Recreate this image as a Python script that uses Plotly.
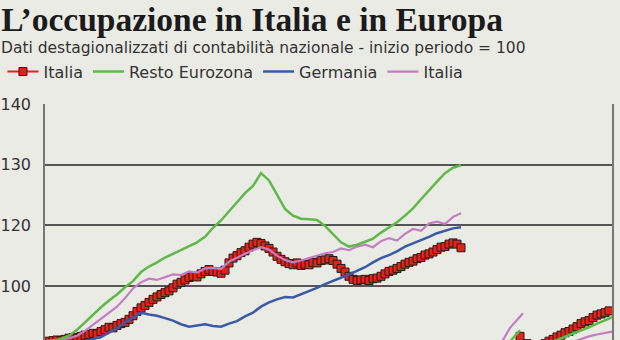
import plotly.graph_objects as go

# ---------------- data (quarter index, index = 100 at start) ----------------
red_x = list(range(0, 105))
red_y = [100.8, 100.9, 101.0, 101.1, 101.0, 101.2, 101.4, 101.5, 101.4, 101.7,
         101.9, 102.0, 102.2, 102.1, 102.5, 102.8, 103.2, 103.1, 103.5, 103.8,
         104.0, 104.5, 105.1, 105.8, 106.4, 106.8, 107.3, 107.8, 108.2, 108.6,
         108.9, 109.2, 109.7, 110.3, 110.6, 111.0, 111.4, 111.6, 111.5, 112.0,
         112.4, 112.7, 112.4, 112.3, 112.1, 112.6, 113.8, 114.6, 115.0, 115.5,
         115.8, 116.4, 116.9, 117.2, 117.0, 116.6, 116.2, 115.6, 114.9, 114.4,
         114.0, 113.7, 113.5, 113.8, 113.4, 113.6, 113.5, 113.9, 113.8, 114.2,
         114.3, 114.5, 114.2, 113.6, 112.9, 112.3, 111.6, 111.1, 110.9, 111.0,
         111.1, 110.9, 111.2, 111.3, 111.6, 112.0, 112.4, 112.6, 112.9, 113.2,
         113.6, 113.9, 114.1, 114.5, 114.7, 115.1, 115.3, 115.6, 116.0, 116.4,
         116.5, 116.9, 117.1, 116.9, 116.3]

coarse_x = list(range(0, 105, 2))
green_y = [100.6, 100.9, 101.3, 101.8, 102.8, 104.0, 105.3, 106.5, 107.6, 108.6,
           109.8, 110.8, 112.3, 113.2, 113.9, 114.7, 115.3, 115.9, 116.6, 117.2,
           118.1, 119.6, 120.8, 122.3, 123.8, 125.3, 126.5, 128.6, 127.4, 125.0,
           122.7, 121.6, 121.1, 121.0, 120.9, 119.9, 118.5, 117.2, 116.5, 116.8,
           117.3, 117.8, 118.8, 119.6, 120.5, 121.6, 122.8, 124.3, 125.8, 127.2,
           128.6, 129.5, 129.9]
blue_y = [100.0, 100.1, 100.2, 100.4, 100.6, 100.9, 101.2, 101.6, 102.3, 103.0,
          104.0, 104.8, 105.6, 105.3, 105.1, 104.7, 104.3, 103.7, 103.3, 103.5,
          103.7, 103.4, 103.3, 103.8, 104.2, 105.0, 105.6, 106.6, 107.3, 107.8,
          108.2, 108.1, 108.6, 109.2, 109.7, 110.3, 110.8, 111.4, 111.9, 112.5,
          113.1, 113.9, 114.6, 115.1, 115.7, 116.5, 117.0, 117.5, 118.1, 118.7,
          119.1, 119.5, 119.7]
pink_y = [100.9, 101.0, 101.2, 101.4, 101.8, 102.6, 103.6, 104.5, 105.6, 106.6,
          108.0, 109.6, 110.6, 111.2, 111.0, 111.4, 111.9, 111.8, 112.4, 112.2,
          112.9, 113.0, 112.8, 114.0, 114.7, 115.3, 115.9, 116.4, 116.0, 115.0,
          114.3, 113.9, 114.2, 114.6, 114.9, 115.4, 115.6, 116.2, 115.9, 116.5,
          116.8, 116.4, 117.4, 117.9, 117.5, 118.6, 119.4, 119.1, 120.3, 120.6,
          120.2, 121.4, 122.0]

# fragments visible at the lower right
pink_frag_x = [112.5, 114.5, 116.25, 118, 119.5]
pink_frag_y = [99.8, 101.1, 103.1, 104.4, 105.5]
green_frag_x = [115.5, 117, 118.75]
green_frag_y = [100.3, 101.4, 102.7]
red_frag_x = [118.75, 120.5]
red_frag_y = [101.7, 100.5]

red_tail_x = list(range(125, 142))
red_tail_y = [100.5, 100.9, 101.2, 101.6, 101.9, 102.3, 102.5, 102.9, 103.3,
              103.8, 104.1, 104.3, 104.8, 105.2, 105.4, 105.6, 105.9]
green_tail_x = list(range(126, 143, 2))
green_tail_y = [100.6, 101.1, 101.6, 102.1, 102.7, 103.2, 103.8, 104.4, 104.9]
pink_tail_x = list(range(132, 143, 2))
pink_tail_y = [100.8, 101.3, 101.7, 102.0, 102.3, 102.5]

tick_vals = [110, 120, 130, 140]
tick_text = ["100", "120", "130", "140"]
bottom_label = "100"

title_text = "L’occupazione in Italia e in Europa"
subtitle_text = "Dati destagionalizzati di contabilità nazionale - inizio periodo = 100"
names = ["Italia", "Resto Eurozona", "Germania", "Italia"]

# ---------------- styling ----------------
BG = "#ebebe6"
RED = "#e3231b"
GREEN = "#5fb848"
BLUE = "#3b5aa6"
PINK = "#c47cc2"
GRID = "#555555"
SANS = "DejaVu Sans"
TXT = "#333333"


def join(*parts):
    xs, ys = [], []
    for i, (px, py) in enumerate(parts):
        if i:
            xs.append(None)
            ys.append(None)
        xs += list(px)
        ys += list(py)
    return xs, ys


fig = go.Figure()

rx, ry = join((red_x, red_y), (red_frag_x, red_frag_y), (red_tail_x, red_tail_y))
fig.add_trace(go.Scatter(x=rx, y=ry, name=names[0], mode="lines+markers",
                         line=dict(color=RED, width=2),
                         marker=dict(symbol="square", size=8, color=RED,
                                     line=dict(color="#2a1a1a", width=1)),
                         legendrank=1))

fig.add_trace(go.Scatter(x=coarse_x, y=blue_y, name=names[2], mode="lines",
                         line=dict(color=BLUE, width=2.5), legendrank=3))

px_, py_ = join((coarse_x, pink_y), (pink_frag_x, pink_frag_y), (pink_tail_x, pink_tail_y))
fig.add_trace(go.Scatter(x=px_, y=py_, name=names[3], mode="lines",
                         line=dict(color=PINK, width=2.2), legendrank=4))

gx, gy = join((coarse_x, green_y), (green_frag_x, green_frag_y), (green_tail_x, green_tail_y))
fig.add_trace(go.Scatter(x=gx, y=gy, name=names[1], mode="lines",
                         line=dict(color=GREEN, width=2.5), legendrank=2))

fig.update_layout(
    width=620, height=340,
    margin=dict(l=45, r=8, t=104, b=0),
    paper_bgcolor=BG, plot_bgcolor=BG,
    font=dict(family=SANS, color=TXT),
    title=dict(text=title_text, xref="container", yref="container",
               x=0.002, xanchor="left", y=1 - 19 / 340, yanchor="middle",
               font=dict(family="Liberation Serif", size=33.5, color="#1b1b1b",
                         weight="bold")),
    legend=dict(orientation="h", x=-0.075, xanchor="left", y=1.137, yanchor="middle",
                bgcolor="rgba(0,0,0,0)", font=dict(size=16, color=TXT, family=SANS),
                itemwidth=31, tracegroupgap=0, traceorder="normal"),
    xaxis=dict(range=[0, 141.75], showgrid=False, showticklabels=False,
               zeroline=False, showline=False, ticks=""),
    yaxis=dict(range=[101.1, 140], tickvals=tick_vals, ticktext=tick_text,
               showgrid=True, gridcolor=GRID, gridwidth=2.2, zeroline=False,
               showline=True, linecolor="#777777", linewidth=1.5, mirror=True,
               ticks="", ticklabelstandoff=9,
               tickfont=dict(size=16, color=TXT, family=SANS)),
    showlegend=True,
)

fig.add_annotation(text=subtitle_text, xref="paper", yref="paper",
                   x=-0.081, xanchor="left", y=(340 - 48) / 236, yanchor="middle",
                   showarrow=False, font=dict(size=15.5, color=TXT, family=SANS))
fig.add_annotation(text=bottom_label, xref="paper", yref="y",
                   x=-0.016, xanchor="right", y=100.4, yanchor="middle",
                   showarrow=False, font=dict(size=16, color=TXT, family=SANS))

fig.write_html("out.html")
